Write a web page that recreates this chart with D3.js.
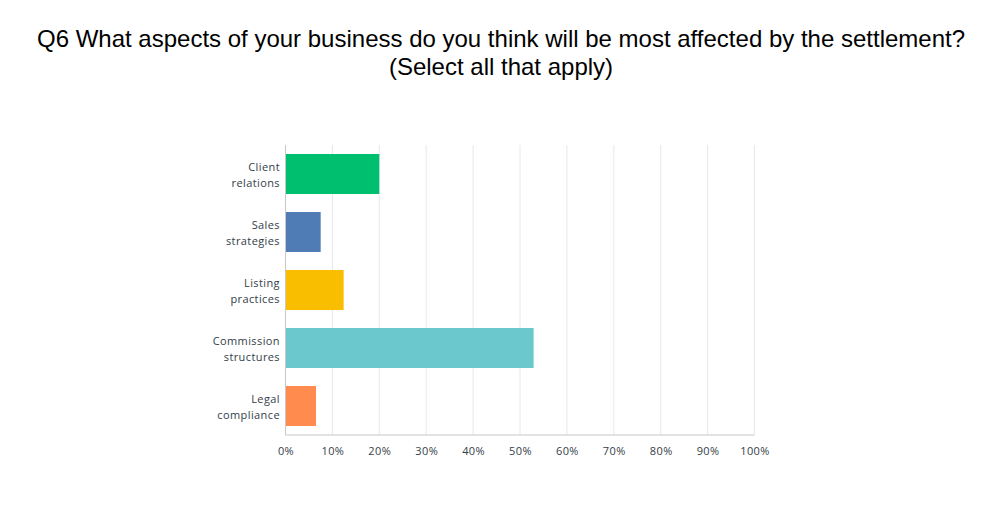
<!DOCTYPE html>
<html><head><meta charset="utf-8">
<script src="https://cdn.jsdelivr.net/npm/d3@7"></script>
<style>body{margin:0;background:#fff}</style>
</head><body>
<svg id="c" width="1000" height="508"></svg>
<script>
const categories = [["Client","relations"],["Sales","strategies"],["Listing","practices"],["Commission","structures"],["Legal","compliance"]];
const values = [20.0, 7.5, 12.4, 52.9, 6.5];
const colors = ["#00bf6f","#507cb6","#f9be00","#6bc8cd","#ff8b4f"];
const ticks = [0,10,20,30,40,50,60,70,80,90,100];
const titleLines = ["Q6 What aspects of your business do you think will be most affected by the settlement?","(Select all that apply)"];

const svg = d3.select("#c");
svg.append("rect").attr("width",1000).attr("height",508).attr("fill","#fff");
const t = svg.append("text").attr("text-anchor","middle").attr("font-family","'Liberation Sans',Arial,sans-serif").attr("font-size",24).attr("fill","#000");
titleLines.forEach((l,i)=>t.append("tspan").attr("x",501).attr("y",47+i*27.5).text(l));

const x = d3.scaleLinear().domain([0,100]).range([285.5,754.5]);
const y = d3.scaleBand().domain(d3.range(categories.length)).range([145,435]).paddingInner(0.31).paddingOuter(0.155);
const font = "'Open Sans','DejaVu Sans',sans-serif";

const g = svg.append("g");
g.selectAll("line.grid").data(ticks.slice(1)).join("line").attr("class","grid")
 .attr("x1",d=>x(d)).attr("x2",d=>x(d)).attr("y1",145).attr("y2",435).attr("stroke","#e8e8e8").attr("stroke-width",1);

g.selectAll("rect.bar").data(values).join("rect").attr("class","bar")
 .attr("x",x(0)).attr("y",(d,i)=>y(i)).attr("width",d=>x(d)-x(0)).attr("height",y.bandwidth())
 .attr("fill",(d,i)=>colors[i]);

g.append("line").attr("x1",x(0)).attr("x2",x(0)).attr("y1",145).attr("y2",435).attr("stroke","#c8c8c8");
g.append("line").attr("x1",x(0)).attr("x2",x(100)).attr("y1",435).attr("y2",435).attr("stroke","#c8c8c8");

const xa = svg.append("g").attr("transform","translate(0,435)")
 .call(d3.axisBottom(x).tickValues(ticks).tickFormat(d=>d+"%").tickSize(0).tickPadding(12));
xa.select(".domain").remove();
xa.selectAll("text").attr("font-family",font).attr("font-size",11).attr("letter-spacing",0.4).attr("fill","#333e48");

categories.forEach((c,i)=>{
  const cy = y(i)+y.bandwidth()/2;
  const tx = svg.append("text").attr("text-anchor","end").attr("font-family",font).attr("font-size",11).attr("letter-spacing",0.4).attr("fill","#333e48");
  c.forEach((s,j)=>tx.append("tspan").attr("x",280).attr("y",cy-3+j*16).text(s));
});
</script>
</body></html>
